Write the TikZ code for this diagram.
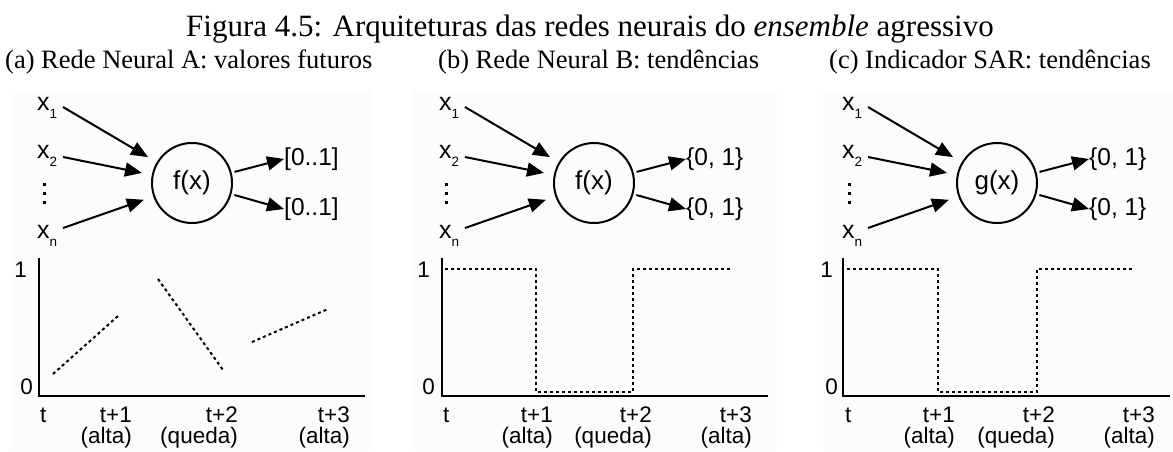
\documentclass[tikz,border=0pt]{standalone}
\usepackage{fontspec}
\setmainfont{Liberation Serif}
\setsansfont{Liberation Sans}
\usetikzlibrary{arrows.meta}
\newcommand\xsub[1]{\raisebox{-8pt}{\fontsize{13.5}{13.5}\selectfont #1}}
\tikzset{
  ttl/.style={font=\fontsize{31}{38}\selectfont, anchor=base, inner sep=0pt},
  subcap/.style={font=\fontsize{26.5}{32}\selectfont, anchor=base west, inner sep=0pt},
  xl/.style={font=\sffamily\fontsize{25}{28}\selectfont, anchor=base west, inner sep=0pt},
  outl/.style={font=\sffamily\fontsize{24.5}{28}\selectfont, anchor=west, inner sep=0pt},
  neuron/.style={circle, draw, line width=2pt, minimum size=80pt, inner sep=0pt, font=\sffamily\fontsize{26}{30}\selectfont},
  arr/.style={line width=2pt, -{Triangle[length=17pt,width=14pt]}},
  axl/.style={font=\sffamily\fontsize{22.5}{26}\selectfont, inner sep=0pt},
  axisline/.style={line width=2pt},
  plotline/.style={line width=2pt, dash pattern=on 3pt off 3pt},
  panelbg/.style={fill=black!1, draw=none}
}
\newcommand\netpanel[4]{%
\begin{scope}[xshift=#2]
  \node[xl] (#1x1) at (37,110) {x\xsub{1}};
  \node[xl] (#1x2) at (37,158) {x\xsub{2}};
  \node[xl] (#1xn) at (37,238) {x\xsub{n}};
  \fill (42.5,182.5) rectangle +(3,3);
  \fill (42.5,191.5) rectangle +(3,3);
  \fill (42.5,200.5) rectangle +(3,3);
  \coordinate (#1s1) at (63,107);
  \coordinate (#1s2) at (63,157);
  \coordinate (#1s3) at (63,228);
  \node[neuron] (#1f) at (192,183) {#3};
  \node[outl] (#1o1) at (284,159) {#4};
  \node[outl] (#1o2) at (284,209) {#4};
  \draw[arr, shorten >=10pt] (#1s1) -- (#1f);
  \draw[arr, shorten >=10pt] (#1s2) -- (#1f);
  \draw[arr, shorten >=10pt] (#1s3) -- (#1f);
  \draw[arr, shorten <=3pt] (#1f) -- (#1o1.west);
  \draw[arr, shorten <=3pt] (#1f) -- (#1o2.west);
\end{scope}}
\begin{document}
\begin{tikzpicture}[x=1pt,y=-1pt]
\useasboundingbox (0,0) rectangle (1173,451);
% faint panel backgrounds
\path[panelbg] (10,90) rectangle (373,451);
\path[panelbg] (413,90) rectangle (777,451);
\path[panelbg] (823,90) rectangle (1173,451);
% captions
\node[ttl] (title) at (590,36) {Figura 4.5: Arquiteturas das redes neurais do \textit{ensemble} agressivo};
\node[subcap] (capA) at (5,68) {(a) Rede Neural A: valores futuros};
\node[subcap] (capB) at (438,68) {(b) Rede Neural B: tendências};
\node[subcap] (capC) at (829,68) {(c) Indicador SAR: tendências};
% networks
\netpanel{A}{0}{f(x)}{[0..1]}
\netpanel{B}{402}{f(x)}{\{0, 1\}}
\netpanel{C}{805}{g(x)}{\{0, 1\}}
% chart A
\draw[axisline] (39,258) -- (39,396) -- (365,396);
\node[axl, anchor=east] (oneA) at (27,270) {1};
\node[axl, anchor=east] (zeroA) at (33,387) {0};
\node[axl, anchor=base west] (tA0) at (40,422) {t};
\node[axl, anchor=base east] (tA1) at (132,422) {t+1};
\node[axl, anchor=base east] (eA1) at (132,443) {(alta)};
\node[axl, anchor=base east] (tA2) at (238,422) {t+2};
\node[axl, anchor=base east] (eA2) at (238,443) {(queda)};
\node[axl, anchor=base east] (tA3) at (350,422) {t+3};
\node[axl, anchor=base east] (eA3) at (350,443) {(alta)};
\draw[plotline] (53,374) -- (118,316);
\draw[plotline] (158,279) -- (223,370);
\draw[plotline] (252,342) -- (328,309);
% chart B
\draw[axisline] (442,258) -- (442,396) -- (768,396);
\node[axl, anchor=east] (oneB) at (430,270) {1};
\node[axl, anchor=east] (zeroB) at (435,387) {0};
\node[axl, anchor=base west] (tB0) at (443,422) {t};
\node[axl, anchor=base east] (tB1) at (553,422) {t+1};
\node[axl, anchor=base east] (eB1) at (553,443) {(alta)};
\node[axl, anchor=base east] (tB2) at (652,422) {t+2};
\node[axl, anchor=base east] (eB2) at (652,443) {(queda)};
\node[axl, anchor=base east] (tB3) at (752,422) {t+3};
\node[axl, anchor=base east] (eB3) at (752,443) {(alta)};
\draw[plotline] (445,269) -- (536,269) -- (536,392) -- (633,392) -- (633,269) -- (732,269);
% chart C
\draw[axisline] (843,258) -- (843,396) -- (1170,396);
\node[axl, anchor=east] (oneC) at (833,270) {1};
\node[axl, anchor=east] (zeroC) at (838,387) {0};
\node[axl, anchor=base west] (tC0) at (845,422) {t};
\node[axl, anchor=base east] (tC1) at (955,422) {t+1};
\node[axl, anchor=base east] (eC1) at (955,443) {(alta)};
\node[axl, anchor=base east] (tC2) at (1055,422) {t+2};
\node[axl, anchor=base east] (eC2) at (1055,443) {(queda)};
\node[axl, anchor=base east] (tC3) at (1155,422) {t+3};
\node[axl, anchor=base east] (eC3) at (1155,443) {(alta)};
\draw[plotline] (847,269) -- (938,269) -- (938,392) -- (1037,392) -- (1037,269) -- (1133,269);
\end{tikzpicture}
\end{document}
